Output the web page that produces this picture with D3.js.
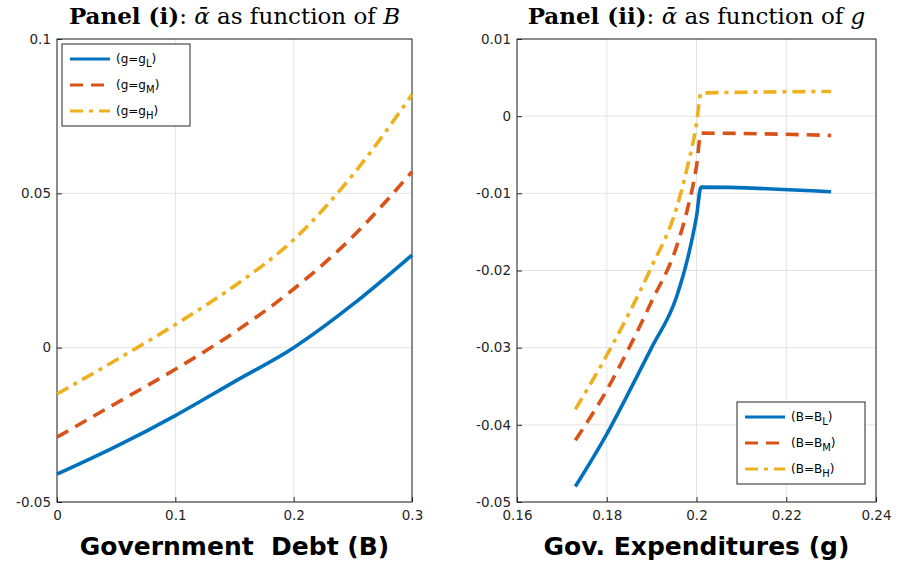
<!DOCTYPE html>
<html><head><meta charset="utf-8">
<script src="https://cdn.jsdelivr.net/npm/d3@7"></script>
<style>body{margin:0;background:#fff}</style>
</head><body>
<svg id="chart" width="902" height="565"></svg>
<script>
// panel (i) data
const debt = [0, 0.05, 0.1, 0.15, 0.2, 0.25, 0.3]
const alphaGL = [-0.041, -0.032, -0.022, -0.011, 0.0, 0.014, 0.030]
const alphaGM = [-0.029, -0.018, -0.007, 0.005, 0.019, 0.036, 0.057]
const alphaGH = [-0.015, -0.004, 0.0075, 0.020, 0.035, 0.056, 0.082]
// panel (ii) data
const gov = [0.173, 0.18, 0.185, 0.19, 0.1955, 0.198, 0.2, 0.201, 0.23]
const alphaBL = [-0.048, -0.0412, -0.0357, -0.0300, -0.0235, -0.0185, -0.0130, -0.0092, -0.0098]
const alphaBM = [-0.042, -0.0355, -0.0300, -0.0240, -0.0170, -0.0120, -0.0065, -0.0022, -0.0025]
const alphaBH = [-0.038, -0.0310, -0.0255, -0.0195, -0.0120, -0.0065, -0.0010, 0.0030, 0.0032]

const colors = ['#0072BD', '#D95319', '#EDB120']
const dashes = [null, '13,8', '13,6,4,6']
const svg = d3.select('#chart')

function panel(o) {
  const x = d3.scaleLinear().domain(o.xd).range([o.x0, o.x1])
  const y = d3.scaleLinear().domain(o.yd).range([502, 39])
  const g = svg.append('g')
  g.selectAll('.gx').data(o.xt).enter().append('line')
    .attr('x1', d => x(d)).attr('x2', d => x(d)).attr('y1', 39).attr('y2', 502)
    .attr('stroke', '#e3e3e3')
  g.selectAll('.gy').data(o.yt).enter().append('line')
    .attr('y1', d => y(d)).attr('y2', d => y(d)).attr('x1', o.x0).attr('x2', o.x1)
    .attr('stroke', '#e3e3e3')
  g.append('rect').attr('x', o.x0).attr('y', 39).attr('width', o.x1 - o.x0).attr('height', 463)
    .attr('fill', 'none').attr('stroke', '#262626')
  const fmt = d => d === 0 ? '0' : String(+d.toFixed(3))
  g.append('g').attr('transform', 'translate(0,502)')
    .call(d3.axisBottom(x).tickValues(o.xt).tickFormat(fmt).tickSize(-5).tickPadding(8))
  g.append('g').attr('transform', `translate(${o.x0},0)`)
    .call(d3.axisLeft(y).tickValues(o.yt).tickFormat(fmt).tickSize(-5).tickPadding(6))
  g.selectAll('.domain').remove()
  g.selectAll('.tick line').attr('stroke', '#262626')
  g.selectAll('.tick text').attr('font-family', 'DejaVu Sans, Arial').attr('font-size', 13.5).attr('fill', '#262626')
  const line = d3.line().curve(d3.curveMonotoneX).x((d, i) => x(o.xs[i])).y(d => y(d))
  o.series.forEach((s, i) => {
    g.append('path').datum(s).attr('d', line).attr('fill', 'none')
      .attr('stroke', colors[i]).attr('stroke-width', 3.6).attr('stroke-dasharray', dashes[i])
  })
  // title
  const t = g.append('text').attr('x', (o.x0 + o.x1) / 2).attr('y', 24).attr('text-anchor', 'middle')
    .attr('font-family', 'DejaVu Serif, serif').attr('font-size', 23).attr('fill', '#000')
  t.append('tspan').attr('font-weight', 'bold').text(o.panel)
  t.append('tspan').text(': ')
  t.append('tspan').attr('font-style', 'italic').text('ᾱ')
  t.append('tspan').text(' as function of ')
  t.append('tspan').attr('font-style', 'italic').text(o.var)
  g.append('text').attr('x', (o.x0 + o.x1) / 2).attr('y', 555).attr('text-anchor', 'middle')
    .attr('font-family', 'DejaVu Sans, Arial').attr('font-weight', 'bold').attr('font-size', 25)
    .attr('fill', '#000').attr('xml:space', 'preserve').text(o.xlabel)
  // legend
  const L = o.leg
  g.append('rect').attr('x', L.x).attr('y', L.y).attr('width', 128).attr('height', 82)
    .attr('fill', '#fff').attr('stroke', '#262626')
  o.labels.forEach((lab, i) => {
    const yy = L.y + 15 + i * 26
    g.append('line').attr('x1', L.x + 8).attr('x2', L.x + 48).attr('y1', yy).attr('y2', yy)
      .attr('stroke', colors[i]).attr('stroke-width', 3.2).attr('stroke-dasharray', dashes[i])
    const tt = g.append('text').attr('x', L.x + 54).attr('y', yy + 4)
      .attr('font-family', 'DejaVu Sans, Arial').attr('font-size', 12).attr('fill', '#000')
    tt.append('tspan').text(lab[0])
    tt.append('tspan').attr('dy', 4).attr('font-size', 10).text(lab[1])
    tt.append('tspan').attr('dy', -4).text(')')
  })
}

panel({x0: 57, x1: 412, xd: [0, 0.3], yd: [-0.05, 0.1],
  xt: [0, 0.1, 0.2, 0.3], yt: [-0.05, 0, 0.05, 0.1],
  xs: debt, series: [alphaGL, alphaGM, alphaGH],
  panel: 'Panel (i)', var: 'B', xlabel: 'Government  Debt (B)',
  leg: {x: 62, y: 44}, labels: [['(g=g', 'L'], ['(g=g', 'M'], ['(g=g', 'H']]})

panel({x0: 517, x1: 876, xd: [0.16, 0.24], yd: [-0.05, 0.01],
  xt: [0.16, 0.18, 0.2, 0.22, 0.24], yt: [-0.05, -0.04, -0.03, -0.02, -0.01, 0, 0.01],
  xs: gov, series: [alphaBL, alphaBM, alphaBH],
  panel: 'Panel (ii)', var: 'g', xlabel: 'Gov. Expenditures (g)',
  leg: {x: 737, y: 402}, labels: [['(B=B', 'L'], ['(B=B', 'M'], ['(B=B', 'H']]})
</script>
</body></html>
